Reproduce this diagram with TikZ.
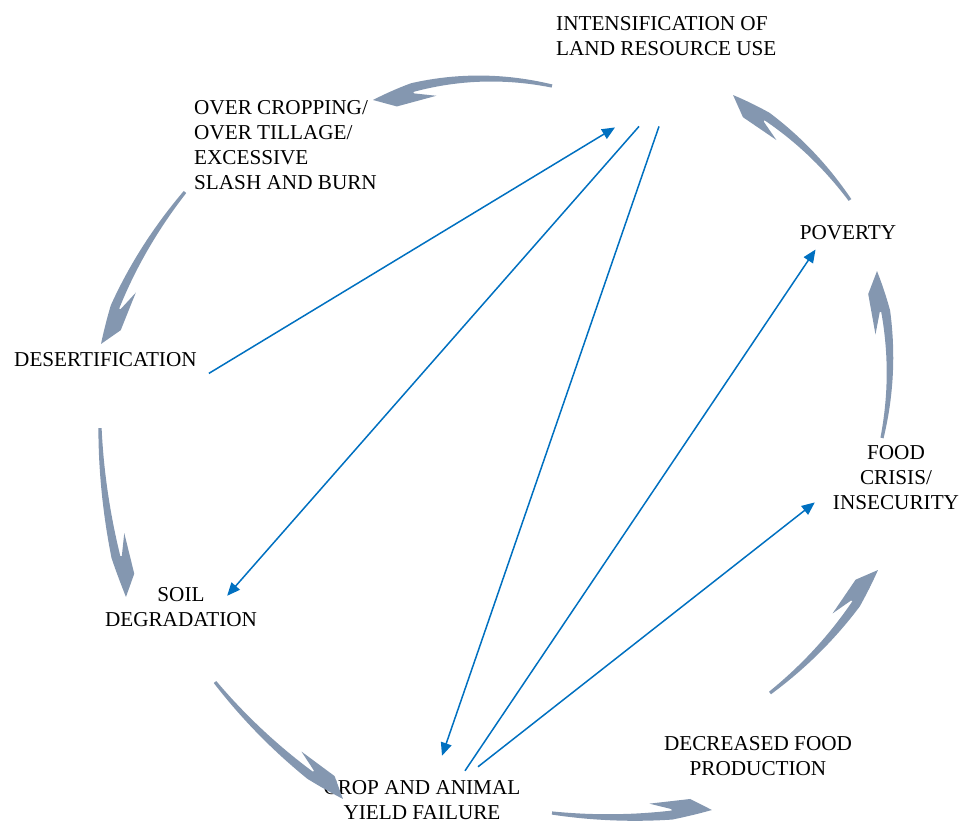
\documentclass[tikz,border=0pt]{standalone}
\usepackage{fontspec}
\setmainfont{Liberation Serif}
\usetikzlibrary{arrows.meta,calc}

\definecolor{linkblue}{RGB}{0,112,192}
\definecolor{cycgray}{RGB}{132,151,176}

% tapered cycle arrow along a quadratic curve: tail, bend, tip
\newcommand\cycarrow[6]{%
  \def\cyAx{#1}\def\cyAy{#2}\def\cyBx{#3}\def\cyBy{#4}\def\cyCx{#5}\def\cyCy{#6}%
  \pgfmathsetmacro\cyLen{veclen(#5-#1,#6-#2)}%
  \pgfmathsetmacro\cyTn{1-40/\cyLen}%
  \pgfmathsetmacro\cyTc{1-20/\cyLen}%
  \pgfmathsetmacro\cyTb{1-62/\cyLen}%
  \fill[cyc]
    plot[domain=0:\cyTn] ({qx(\x)+hw(\x)*nqx(\x)},{qy(\x)+hw(\x)*nqy(\x)})
    -- plot[domain=\cyTn:1] ({qx(\x)+4.5*(1-\x)/(1-\cyTn)*nqx(\x)},{qy(\x)+4.5*(1-\x)/(1-\cyTn)*nqy(\x)})
    -- ({qx(\cyTc)-14*nqx(\cyTc)},{qy(\cyTc)-14*nqy(\cyTc)})
    -- ({qx(\cyTb)-13*nqx(\cyTb)},{qy(\cyTb)-13*nqy(\cyTb)})
    -- ({qx(\cyTn)-6*nqx(\cyTn)},{qy(\cyTn)-6*nqy(\cyTn)})
    -- plot[domain=\cyTn:0] ({qx(\x)-hw(\x)*nqx(\x)},{qy(\x)-hw(\x)*nqy(\x)})
    -- cycle;}

\begin{document}
\begin{tikzpicture}[x=1pt, y=-1pt,
    font=\fontsize{21.2}{25}\selectfont,
    lbl/.style  = {inner sep=0pt},
    link/.style = {draw=linkblue, line width=1.5pt,
                   -{Triangle[length=13pt,width=11pt]}},
    cyc/.style  = {fill=cycgray},
    declare function={
      qx(\t)=(1-\t)*(1-\t)*\cyAx+2*\t*(1-\t)*\cyBx+\t*\t*\cyCx;
      qy(\t)=(1-\t)*(1-\t)*\cyAy+2*\t*(1-\t)*\cyBy+\t*\t*\cyCy;
      dqx(\t)=2*(1-\t)*(\cyBx-\cyAx)+2*\t*(\cyCx-\cyBx);
      dqy(\t)=2*(1-\t)*(\cyBy-\cyAy)+2*\t*(\cyCy-\cyBy);
      nqx(\t)=-dqy(\t)/veclen(dqx(\t),dqy(\t));
      nqy(\t)=dqx(\t)/veclen(dqx(\t),dqy(\t));
      hw(\t)=1.6+2.9*\t/\cyTn;
    },
  ]
  \useasboundingbox (0,0) rectangle (959,823);

  % base = baseline of the last line
  \node[lbl, anchor=base west, align=left] (int) at (556,55)
    {INTENSIFICATION OF\\LAND RESOURCE USE};
  \node[lbl, anchor=base west, align=left] (over) at (194,189)
    {OVER CROPPING/\\OVER TILLAGE/\\EXCESSIVE\\SLASH AND BURN};
  \node[lbl, anchor=base] (pov) at (848,239) {POVERTY};
  \node[lbl, anchor=base west] (des) at (14,366) {DESERTIFICATION};
  \node[lbl, anchor=base, align=center] (food) at (896,509)
    {FOOD\\CRISIS/\\INSECURITY};
  \node[lbl, anchor=base, align=center] (soil) at (181,626)
    {SOIL\\DEGRADATION};
  \node[lbl, anchor=base, align=center] (dec) at (758,775)
    {DECREASED FOOD\\PRODUCTION};
  \node[lbl, anchor=base, align=center] (crop) at (422,819)
    {CROP AND ANIMAL\\YIELD FAILURE};

  % the cycle
  \cycarrow{552}{86}{461}{66}{373}{100}
  \cycarrow{185}{192}{128}{262}{101}{344}
  \cycarrow{100}{428}{102}{512}{126}{597}
  \cycarrow{215}{682}{270}{750}{343}{799}
  \cycarrow{552}{813}{632}{823}{712}{810}
  \cycarrow{770}{693}{836}{642}{878}{570}
  \cycarrow{882}{438}{900}{355}{877}{271}
  \cycarrow{850}{200}{803}{134}{733}{95}

  % cross links
  \draw[link] ($(des.south east)+(12,7)$) -- ($(int.south west)+(59,72)$);
  \draw[link] ($(int.south west)+(83,71)$) -- ($(soil.north east)+(-30,9)$);
  \draw[link] ($(int.south west)+(103,71)$) -- ($(crop.north)+(20,-24)$);
  \draw[link] ($(crop.north)+(43,-9)$) -- ($(pov.south west)+(16,10)$);
  \draw[link] ($(crop.north)+(56,-13)$) -- ($(food.south west)+(-18,-7)$);
\end{tikzpicture}
\end{document}
